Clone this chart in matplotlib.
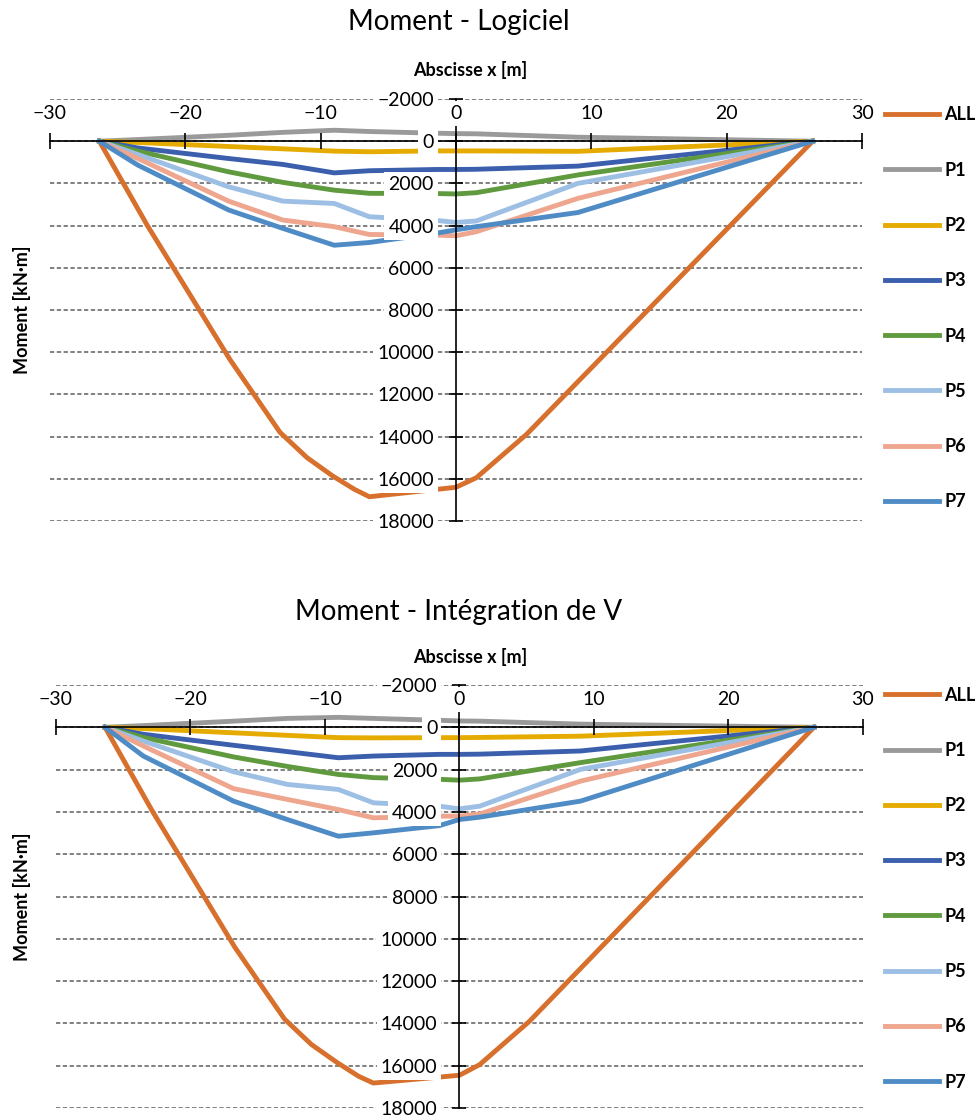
import numpy as np
import matplotlib.pyplot as plt

plt.rcParams['font.family'] = ['Lato', 'DejaVu Sans']

# abscisses des points (m)
x_p = [-26.35, -23.5, -16.8, -12.8, -9.0, -6.4, -1.5, 0.0, 1.5, 9.0, 26.35]
x_all = [-26.35, -22.8, -16.7, -13.0, -11.0, -9.1, -7.5, -6.4, 0.0, 1.5, 5.2, 26.35]

# Moment - Logiciel (kN.m)
all_log = [0, 4000, 10350, 13800, 15000, 15870, 16500, 16850, 16400, 15950, 13900, 0]
p1_log = [0, -80, -280, -420, -520, -460, -380, -360, -350, -190, 0]
p2_log = [0, 60, 250, 360, 470, 500, 460, 460, 460, 480, 0]
p3_log = [0, 320, 820, 1100, 1500, 1400, 1340, 1340, 1330, 1180, 0]
p4_log = [0, 470, 1450, 1950, 2320, 2470, 2480, 2500, 2440, 1600, 0]
p5_log = [0, 630, 2160, 2840, 2950, 3580, 3750, 3850, 3780, 2000, 0]
p6_log = [0, 820, 2840, 3735, 4050, 4420, 4450, 4480, 4290, 2710, 0]
p7_log = [0, 1135, 3260, 4130, 4930, 4800, 4365, 4200, 4050, 3380, 0]

# Moment - Integration de V (kN.m)
all_int = [0, 4000, 10400, 13800, 15000, 15850, 16500, 16820, 16450, 15950, 13900, 0]
p1_int = [0, -80, -290, -420, -470, -420, -330, -300, -290, -150, 0]
p2_int = [0, 60, 260, 380, 490, 500, 490, 490, 480, 420, 0]
p3_int = [0, 330, 850, 1150, 1440, 1360, 1280, 1280, 1270, 1120, 0]
p4_int = [0, 480, 1400, 1850, 2230, 2380, 2460, 2500, 2440, 1670, 0]
p5_int = [0, 650, 2100, 2700, 2940, 3570, 3730, 3855, 3730, 1990, 0]
p6_int = [0, 885, 2900, 3410, 3890, 4280, 4200, 4200, 4100, 2545, 0]
p7_int = [0, 1360, 3490, 4360, 5150, 4990, 4650, 4360, 4250, 3490, 0]

noms = ["ALL", "P1", "P2", "P3", "P4", "P5", "P6", "P7"]
couleurs = ["#d8702d", "#9a9a9a", "#e5ab00", "#3b5fad", "#609a3e",
            "#9dbfe4", "#eea68f", "#4f8cc6"]

xticks = np.arange(-30, 31, 10)
yticks = np.arange(-2000, 18001, 2000)

boite = dict(facecolor="white", edgecolor="none", pad=3)


def trace(ax, serie_all, series_p, titre, y_titre, y_xlabel, y_ylabel, y_leg):
    ax.set_axisbelow(False)
    ax.hlines(yticks, -30, 30, colors="#808080", linestyles=(0, (2.2, 1.3)),
              linewidth=1.4, zorder=0.5)
    lignes = []
    l, = ax.plot(x_all, serie_all, color=couleurs[0], lw=3.5)
    lignes.append(l)
    for i, s in enumerate(series_p):
        l, = ax.plot(x_p, s, color=couleurs[i + 1], lw=3.5)
        lignes.append(l)

    ax.set_xlim(-30, 30)
    ax.set_ylim(18000, -2000)
    ax.spines["top"].set_visible(False)
    ax.spines["right"].set_visible(False)
    ax.spines["left"].set_position(("data", 0))
    ax.spines["bottom"].set_position(("data", 0))
    for sp in ["left", "bottom"]:
        ax.spines[sp].set_linewidth(1.2)
    ax.set_xticks(xticks)
    ax.set_yticks(yticks)
    ax.tick_params(axis="x", direction="inout", length=11, width=1.2,
                   labelsize=14, bottom=True, top=False,
                   labelbottom=False, labeltop=True, pad=-22)
    ax.tick_params(axis="y", direction="inout", length=10, width=1.2,
                   labelsize=14, pad=11)
    for lbl in ax.get_yticklabels():
        lbl.set_bbox(boite)
    for t in ax.xaxis.get_major_ticks():
        t.label2.set_bbox(boite)

    fig.text(0.468, y_titre, titre, ha="center", va="center", fontsize=20)
    fig.text(0.48, y_xlabel, "Abscisse x [m]", ha="center", va="center",
             fontsize=13, fontweight="bold")
    fig.text(0.022, y_ylabel, "Moment [kN·m]", ha="center", va="center",
             rotation=90, fontsize=13, fontweight="bold")
    fig.legend(lignes, noms, loc="upper left", bbox_to_anchor=(0.903, y_leg),
               frameon=False, prop={"size": 13, "weight": "bold"},
               labelspacing=2.12, handlelength=3.0, handletextpad=0.3,
               borderpad=0, borderaxespad=0)


fig = plt.figure(figsize=(9.8, 11.2), dpi=100)
ax1 = fig.add_axes([0.051, 0.5348, 0.8286, 0.3768])
ax2 = fig.add_axes([0.0571, 0.0107, 0.8235, 0.3777])

trace(ax1, all_log, [p1_log, p2_log, p3_log, p4_log, p5_log, p6_log, p7_log],
      "Moment - Logiciel", 0.9804, 0.9375, 0.7232, 0.905)
trace(ax2, all_int, [p1_int, p2_int, p3_int, p4_int, p5_int, p6_int, p7_int],
      "Moment - Intégration de V", 0.4536, 0.4134, 0.1996, 0.387)

fig.savefig("out.png", dpi=100)
